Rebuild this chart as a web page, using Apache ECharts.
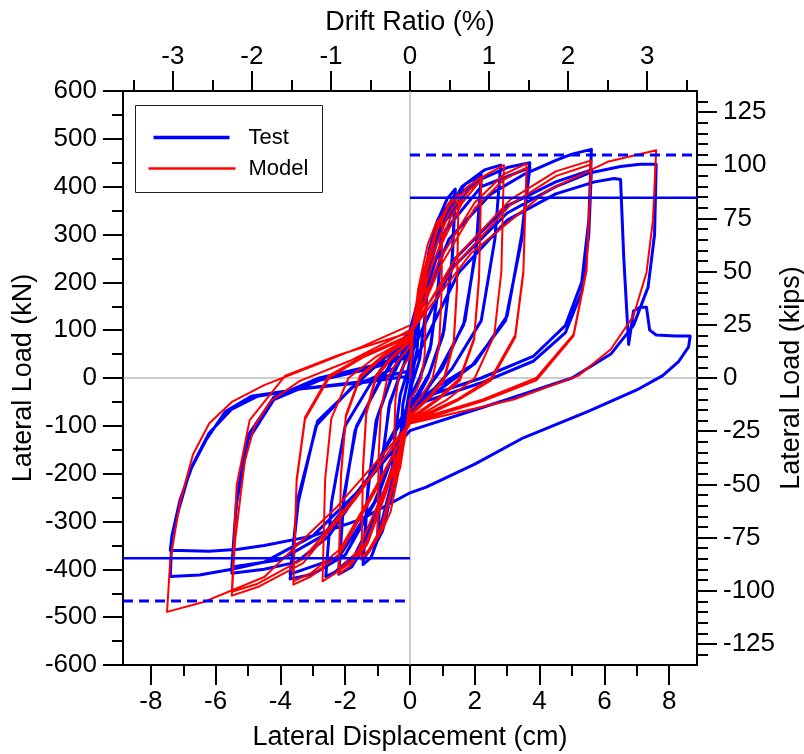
<!DOCTYPE html>
<html>
<head>
<meta charset="utf-8">
<script src="https://cdn.jsdelivr.net/npm/echarts@6/dist/echarts.min.js"></script>
<style>
html,body{margin:0;padding:0;background:#fff;overflow:hidden}
#chart{width:804px;height:754px}
</style>
</head>
<body>
<div id="chart"></div>
<script>
// Axis ticks
const dispTicks = [-8, -6, -4, -2, 0, 2, 4, 6, 8];
const dispMinorTicks = [-7, -5, -3, -1, 1, 3, 5, 7];
const driftTicks = [-3, -2, -1, 0, 1, 2, 3];
const driftMinorTicks = [-3.5, -2.5, -1.5, -0.5, 0.5, 1.5, 2.5, 3.5];
const kipsTicks = [-125, -100, -75, -50, -25, 0, 25, 50, 75, 100, 125];
const kipsMinorTicks = [-130, -120, -115, -110, -105, -95, -90, -85, -80, -70, -65, -60, -55, -45, -40, -35, -30, -20, -15, -10, -5,
  5, 10, 15, 20, 30, 35, 40, 45, 55, 60, 65, 70, 80, 85, 90, 95, 105, 110, 115, 120, 130];

// Axis ranges and unit conversions
const dispMin = -8.86, dispMax = 8.86;      // cm
const loadMin = -600, loadMax = 600;        // kN
const cmPerPercentDrift = 2.44;
const kNPerKip = 4.448;

// Capacity levels (kN)
const vn = 466;
const vAtMn = 377;

// Measured response: [displacement cm, load kN]
const testCurve = [
  [0,0],[0.15,90],[0.3,150],[0.22,60],[0.05,0],[-0.15,-80],[-0.3,-140],[-0.22,-55],[-0.05,0],
  [0.2,110],[0.45,220],[0.6,265],[0.5,150],[0.3,40],[0.05,-15],[-0.2,-110],[-0.45,-210],[-0.6,-255],[-0.5,-140],[-0.3,-35],[-0.05,20],
  [0.3,150],[0.6,270],[0.85,330],[1.0,350],[0.88,200],[0.65,70],[0.3,0],[0,-40],[-0.3,-130],[-0.6,-250],[-0.85,-320],[-1.0,-340],[-0.88,-190],[-0.65,-60],[-0.3,10],[0,60],
  [0.4,190],[0.75,300],[1.0,340],[0.88,190],[0.62,60],[0.25,-10],[0,-50],[-0.4,-180],[-0.75,-290],[-1.0,-330],[-0.88,-180],[-0.62,-50],[-0.25,15],[0,70],
  [0.4,200],[0.8,320],[1.15,375],[1.4,395],[1.3,250],[1.05,100],[0.6,10],[0,-60],[-0.5,-200],[-0.9,-320],[-1.2,-375],[-1.45,-390],[-1.3,-240],[-1.05,-90],[-0.6,-5],[0,80],
  [0.5,230],[0.95,335],[1.4,385],[1.3,240],[1.02,90],[0.55,0],[0,-70],[-0.55,-215],[-1.0,-335],[-1.45,-380],[-1.3,-230],[-1.0,-80],[-0.55,5],[0,90],
  [0.6,260],[1.2,360],[1.7,405],[2.2,425],[2.05,280],[1.7,120],[1.0,20],[0,-70],[-0.7,-220],[-1.3,-340],[-1.8,-395],[-2.2,-410],[-2.05,-260],[-1.7,-110],[-1.0,-15],[0,90],
  [0.7,280],[1.4,380],[2.2,415],[2.05,270],[1.65,110],[0.9,15],[0,-80],[-0.8,-245],[-1.5,-360],[-2.2,-400],[-2.05,-250],[-1.65,-100],[-0.9,-5],[0,100],
  [0.8,300],[1.6,400],[2.3,435],[2.8,445],[2.62,290],[2.2,120],[1.3,20],[0,-80],[-0.9,-260],[-1.7,-370],[-2.3,-405],[-2.6,-415],[-2.42,-260],[-2.0,-100],[-1.2,-10],[0,100],
  [1.0,320],[2.0,410],[3.0,440],[3.7,450],[3.45,300],[3.0,130],[2.0,30],[0.8,-20],[0,-60],[-1.0,-250],[-2.0,-370],[-3.0,-410],[-3.7,-420],[-3.45,-260],[-2.9,-100],[-1.8,-20],[-0.5,20],[0,80],
  [1.1,310],[2.2,400],[3.7,440],[3.45,290],[2.95,120],[1.9,25],[0,-70],[-1.1,-260],[-2.2,-375],[-3.7,-410],[-3.45,-250],[-2.85,-90],[-1.7,-15],[0,90],
  [1.2,290],[2.5,385],[3.5,425],[4.5,455],[5.0,468],[5.6,478],[5.52,330],[5.3,200],[4.8,110],[3.8,45],[2.2,0],[0,-50],[-1.2,-200],[-2.5,-330],[-3.5,-385],[-4.5,-400],[-5.5,-408],[-5.35,-260],[-5.0,-130],[-4.2,-45],[-2.8,-5],[-1.2,20],[0,45],
  [1.4,250],[3.0,360],[4.5,410],[5.6,435],[5.52,300],[5.3,180],[4.8,95],[3.8,35],[2.2,-10],[0,-60],[-1.3,-210],[-2.7,-330],[-4.0,-380],[-5.5,-395],[-5.35,-250],[-5.0,-120],[-4.2,-40],[-2.8,0],[-1.2,25],[0,50],
  [1.3,230],[3.0,345],[4.5,400],[5.5,428],[6.5,442],[7.1,447],[7.6,447],[7.55,300],[7.35,190],[6.9,110],[6.2,50],[5.0,0],[3.0,-45],[0,-110],
  [-1.5,-230],[-3.0,-330],[-4.5,-385],[-5.5,-400],[-6.5,-412],[-7.4,-415],[-7.35,-330],[-7.1,-255],[-6.7,-180],[-6.2,-115],[-5.5,-65],[-4.7,-38],[-3.3,-22],[-1.5,-8],[0,15],
  [1.5,220],[3.0,330],[4.5,385],[5.7,410],[6.3,417],[6.5,415],[6.6,250],[6.75,70],[6.9,140],[7.1,148],[7.3,148],[7.4,100],[7.6,90],[8.2,88],[8.65,88],[8.6,65],[8.3,35],[7.8,5],[7.0,-25],[5.5,-70],[3.5,-125],[2.0,-180],[0.5,-228],[0,-240],
  [-1.5,-295],[-3.0,-330],[-4.5,-350],[-5.3,-358],[-6.2,-362],[-7.4,-360],[-7.35,-330],[-7.16,-280],[-6.8,-195],[-6.3,-130],[-5.7,-70],[-4.9,-38],[-3.4,-23],[-1.5,-10],[0,4]
];

// Analytical model response: [displacement cm, load kN]
const modelCurve = [
  [0,0],[0.12,125],[0.28,190],[0.4,218],[0.5,230],[0.48,115],[0.45,45],[0.35,0],[0.2,-25],[0,-45],[-0.15,-120],[-0.3,-187],[-0.42,-210],[-0.5,-220],[-0.48,-110],[-0.45,-45],[-0.35,0],[-0.2,25],[0,45],
  [0.25,185],[0.55,280],[0.8,323],[1.0,340],[0.97,170],[0.9,68],[0.7,0],[0.4,-34],[0,-68],[-0.3,-180],[-0.6,-280],[-0.85,-317],[-1.0,-330],[-0.97,-165],[-0.9,-66],[-0.7,0],[-0.4,33],[0,66],
  [0.38,212],[0.83,316],[1.2,366],[1.5,385],[1.45,192],[1.35,77],[1.05,0],[0.6,-38],[0,-77],[-0.45,-209],[-0.9,-323],[-1.28,-365],[-1.5,-380],[-1.45,-190],[-1.35,-76],[-1.05,0],[-0.6,38],[0,76],
  [0.4,200],[0.85,310],[1.2,360],[1.5,380],[1.45,185],[1.35,72],[1.05,-5],[0.6,-42],[0,-80],[-0.45,-200],[-0.9,-315],[-1.28,-360],[-1.5,-375],[-1.45,-185],[-1.35,-70],[-1.05,5],[-0.6,42],[0,80],
  [0.55,231],[1.2,344],[1.76,399],[2.2,420],[2.13,210],[1.98,84],[1.54,0],[0.88,-42],[0,-84],[-0.66,-225],[-1.32,-348],[-1.87,-394],[-2.2,-410],[-2.13,-205],[-1.98,-82],[-1.54,0],[-0.88,41],[0,82],
  [0.6,220],[1.25,335],[1.8,392],[2.2,412],[2.13,205],[1.98,80],[1.54,-5],[0.88,-45],[0,-88],[-0.66,-218],[-1.32,-340],[-1.87,-388],[-2.2,-403],[-2.13,-200],[-1.98,-78],[-1.54,5],[-0.88,45],[0,86],
  [0.72,245],[1.6,365],[2.3,423],[2.9,445],[2.82,222],[2.6,89],[2.0,0],[1.15,-45],[0,-89],[-0.8,-234],[-1.6,-361],[-2.3,-408],[-2.7,-425],[-2.62,-212],[-2.43,-85],[-1.9,0],[-1.08,43],[0,85],
  [0.9,246],[2.0,367],[2.9,426],[3.6,448],[3.5,224],[3.25,90],[2.5,0],[1.45,-45],[0,-90],[-1.08,-238],[-2.16,-367],[-3.06,-415],[-3.6,-432],[-3.5,-216],[-3.24,-86],[-2.5,0],[-1.45,43],[0,86],
  [0.95,235],[2.0,355],[2.9,415],[3.6,440],[3.5,220],[3.25,85],[2.5,-5],[1.45,-48],[0,-95],[-1.08,-230],[-2.16,-358],[-3.06,-408],[-3.6,-425],[-3.5,-212],[-3.24,-82],[-2.5,5],[-1.45,46],[0,90],
  [1.4,250],[3.1,373],[4.5,432],[5.6,455],[5.45,228],[5.05,91],[3.9,0],[2.25,-45],[0,-91],[-1.65,-250],[-3.3,-387],[-4.7,-437],[-5.5,-455],[-5.4,-340],[-5.1,-174],[-4.8,-100],[-4.3,-48],[-3.4,-6],[-1.85,36],[0,100],
  [1.45,240],[3.1,362],[4.5,422],[5.6,447],[5.45,224],[5.05,88],[3.9,-5],[2.25,-48],[0,-95],[-1.65,-245],[-3.3,-378],[-4.7,-430],[-5.5,-447],[-5.35,-224],[-4.95,-88],[-3.85,5],[-2.2,48],[0,95],
  [1.9,262],[4.2,390],[6.1,452],[7.6,476],[7.5,330],[7.3,220],[6.9,130],[6.2,60],[5.2,5],[3.2,-45],[0,-95],[-2.25,-269],[-4.5,-416],[-6.4,-469],[-7.5,-489],
  [-7.4,-380],[-7.1,-260],[-6.7,-160],[-6.2,-95],[-5.5,-50],[-4.5,-15],[-3.0,25],[-1.5,65],[0,110]
];

const FONT = "'Liberation Sans', Arial, Helvetica, sans-serif";
const chart = echarts.init(document.getElementById('chart'), null, { renderer: 'canvas', width: 804, height: 754 });

const black = '#000';
const majorTickLen = 20, minorTickLen = 11;
const tickFont = 26;

const shownLine = { show: true, onZero: false, lineStyle: { color: black, width: 2 } };
const hiddenLine = { show: false, onZero: false };

function baseAxis(range, opts) {
  return Object.assign({
    type: 'value',
    gridIndex: 0,
    min: range[0], max: range[1],
    axisLine: shownLine,
    splitLine: { show: false },
    nameMoveOverlap: false,
    nameTextStyle: { color: black, fontSize: 27, fontFamily: FONT }
  }, opts);
}
function majorTicks(values) {
  return { show: true, inside: false, length: majorTickLen, lineStyle: { color: black, width: 2 }, customValues: values };
}
function minorTicks(values) {
  return { show: true, inside: false, length: minorTickLen, lineStyle: { color: black, width: 2 }, customValues: values };
}
function labels(values, margin) {
  return { show: true, color: black, fontSize: tickFont, fontFamily: FONT, margin: margin, customValues: values };
}

const driftRange = [dispMin / cmPerPercentDrift, dispMax / cmPerPercentDrift];
const kipsRange = [loadMin / kNPerKip, loadMax / kNPerKip];

const option = {
  animation: false,
  backgroundColor: '#fff',
  grid: { left: 123, right: 107, top: 91, bottom: 89, containLabel: false, outerBoundsMode: 'none' },
  xAxis: [
    baseAxis([dispMin, dispMax], {
      position: 'bottom',
      name: 'Lateral Displacement (cm)', nameLocation: 'middle', nameGap: 59,
      axisTick: majorTicks(dispTicks),
      axisLabel: labels(dispTicks, 24)
    }),
    baseAxis([dispMin, dispMax], {
      position: 'bottom',
      axisLine: hiddenLine,
      axisTick: minorTicks(dispMinorTicks),
      axisLabel: { show: false }
    }),
    baseAxis(driftRange, {
      position: 'top',
      name: 'Drift Ratio (%)', nameLocation: 'middle', nameGap: 55,
      axisTick: majorTicks(driftTicks),
      axisLabel: labels(driftTicks, 21)
    }),
    baseAxis(driftRange, {
      position: 'top',
      axisLine: hiddenLine,
      axisTick: minorTicks(driftMinorTicks),
      axisLabel: { show: false }
    })
  ],
  yAxis: [
    baseAxis([loadMin, loadMax], {
      position: 'left',
      interval: 100,
      name: 'Lateral Load (kN)', nameLocation: 'middle', nameGap: 86, nameRotate: 90,
      axisTick: { show: true, length: majorTickLen, lineStyle: { color: black, width: 2 } },
      minorTick: { show: true, splitNumber: 2, length: minorTickLen, lineStyle: { color: black, width: 2 } },
      axisLabel: { show: true, color: black, fontSize: tickFont, fontFamily: FONT, margin: 26 }
    }),
    baseAxis(kipsRange, {
      position: 'right',
      name: 'Lateral Load (kips)', nameLocation: 'middle', nameGap: 81, nameRotate: 90,
      axisTick: majorTicks(kipsTicks),
      axisLabel: labels(kipsTicks, 26)
    }),
    baseAxis(kipsRange, {
      position: 'right',
      axisLine: hiddenLine,
      axisTick: minorTicks(kipsMinorTicks),
      axisLabel: { show: false }
    })
  ],
  series: [
    {
      name: 'zero-x', type: 'line', silent: true, symbol: 'none',
      xAxisIndex: 0, yAxisIndex: 0,
      lineStyle: { color: '#9a9a9a', width: 1 },
      data: [[dispMin, 0], [dispMax, 0]]
    },
    {
      name: 'zero-y', type: 'line', silent: true, symbol: 'none',
      xAxisIndex: 0, yAxisIndex: 0,
      lineStyle: { color: '#9a9a9a', width: 1 },
      data: [[0, loadMin], [0, loadMax]]
    },
    {
      name: 'Test', type: 'line', symbol: 'none', smooth: false,
      xAxisIndex: 0, yAxisIndex: 0, clip: true,
      lineStyle: { color: '#0000ff', width: 3, join: 'round' },
      data: testCurve, z: 3
    },
    {
      name: 'Model', type: 'line', symbol: 'none', smooth: false,
      xAxisIndex: 0, yAxisIndex: 0, clip: true,
      lineStyle: { color: '#ff0000', width: 2, join: 'round' },
      data: modelCurve, z: 4
    },
    {
      name: 'Vn+', type: 'line', silent: true, symbol: 'none',
      xAxisIndex: 0, yAxisIndex: 0,
      lineStyle: { color: '#0000ff', width: 3, type: [10, 6] },
      data: [
        { value: [0, vn], label: { show: true, formatter: 'Vn', position: 'left', distance: 6, color: black, fontSize: 21, fontFamily: FONT } },
        [dispMax, vn]
      ], z: 5
    },
    {
      name: 'VMn+', type: 'line', silent: true, symbol: 'none',
      xAxisIndex: 0, yAxisIndex: 0,
      lineStyle: { color: '#0000ff', width: 2.5 },
      data: [
        { value: [0, vAtMn], label: { show: true, formatter: 'V@Mn', position: 'left', distance: 6, color: black, fontSize: 21, fontFamily: FONT } },
        [dispMax, vAtMn]
      ], z: 5
    },
    {
      name: 'VMn-', type: 'line', silent: true, symbol: 'none',
      xAxisIndex: 0, yAxisIndex: 0,
      lineStyle: { color: '#0000ff', width: 2.5 },
      data: [
        [dispMin, -vAtMn],
        { value: [0, -vAtMn], label: { show: true, formatter: 'V@Mn', position: 'right', distance: 8, color: black, fontSize: 21, fontFamily: FONT } }
      ], z: 5
    },
    {
      name: 'Vn-', type: 'line', silent: true, symbol: 'none',
      xAxisIndex: 0, yAxisIndex: 0,
      lineStyle: { color: '#0000ff', width: 3, type: [10, 6] },
      data: [
        [dispMin, -vn],
        { value: [0, -vn], label: { show: true, formatter: 'Vn', position: 'right', distance: 8, color: black, fontSize: 21, fontFamily: FONT } }
      ], z: 5
    }
  ],
  graphic: [
    {
      type: 'group', left: 135, top: 105, z: 10,
      children: [
        { type: 'rect', shape: { x: 0, y: 0, width: 187, height: 87 }, style: { fill: '#fff', stroke: '#222', lineWidth: 1 } },
        { type: 'line', shape: { x1: 18, y1: 32, x2: 94, y2: 32 }, style: { stroke: '#0000ff', lineWidth: 3.5 } },
        { type: 'line', shape: { x1: 13, y1: 63, x2: 100, y2: 63 }, style: { stroke: '#ff0000', lineWidth: 2.5 } },
        { type: 'text', style: { x: 113, y: 32, text: 'Test', fill: black, font: '22px ' + FONT, textVerticalAlign: 'middle' } },
        { type: 'text', style: { x: 113, y: 63, text: 'Model', fill: black, font: '22px ' + FONT, textVerticalAlign: 'middle' } }
      ]
    }
  ]
};

chart.setOption(option);
</script>
</body>
</html>
